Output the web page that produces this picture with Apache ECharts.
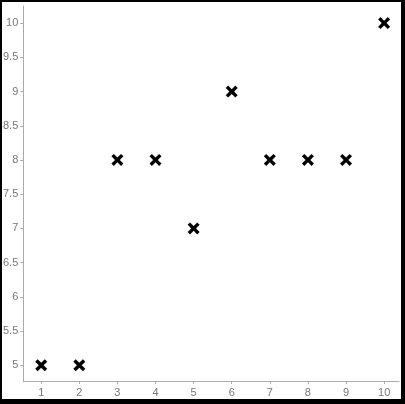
<!DOCTYPE html>
<html><head><meta charset="utf-8">
<script src="https://cdn.jsdelivr.net/npm/echarts@6/dist/echarts.min.js"></script>
<style>
html,body{margin:0;padding:0;background:#fff;}
#chart{width:405px;height:404px;position:absolute;left:0;top:0;}
#frame{position:absolute;left:0;top:0;width:405px;height:404px;box-sizing:border-box;border-style:solid;border-color:#000;border-width:2px 4px 5px 2px;pointer-events:none;}
</style></head>
<body>
<div id="chart"></div><div id="frame"></div>
<script>
const xValues = [1, 2, 3, 4, 5, 6, 7, 8, 9, 10];
const yValues = [5, 5, 8, 8, 7, 9, 8, 8, 8, 10];
const xTicks = [1, 2, 3, 4, 5, 6, 7, 8, 9, 10];
const yTicks = [5, 5.5, 6, 6.5, 7, 7.5, 8, 8.5, 9, 9.5, 10];

const chart = echarts.init(document.getElementById('chart'));
const axisCommon = {
  axisLine: {show: true, lineStyle: {color: '#aaa', width: 1}},
  axisTick: {show: true, length: 3, lineStyle: {color: '#aaa'}},
  axisLabel: {color: '#777', fontSize: 11, fontFamily: 'Liberation Sans, Arial, sans-serif'},
  splitLine: {show: false}
};
chart.setOption({
  animation: false,
  grid: {left: 23, top: 6, right: 6, bottom: 23, containLabel: false},
  xAxis: Object.assign({}, axisCommon, {
    type: 'value', min: 0.53, max: 10.39,
    axisTick: Object.assign({}, axisCommon.axisTick, {customValues: xTicks}),
    axisLabel: Object.assign({}, axisCommon.axisLabel, {customValues: xTicks, margin: 6})
  }),
  yAxis: Object.assign({}, axisCommon, {
    type: 'value', min: 4.77, max: 10.25,
    axisTick: Object.assign({}, axisCommon.axisTick, {customValues: yTicks}),
    axisLabel: Object.assign({}, axisCommon.axisLabel, {customValues: yTicks, margin: 5})
  }),
  series: [{
    type: 'scatter',
    data: xValues.map((x, i) => [x, yValues[i]]),
    symbol: 'path://M0,2 L2,0 L5,3 L8,0 L10,2 L7,5 L10,8 L8,10 L5,7 L2,10 L0,8 L3,5 Z',
    symbolSize: 12,
    itemStyle: {color: '#000', opacity: 1}
  }]
});
</script>
</body></html>
